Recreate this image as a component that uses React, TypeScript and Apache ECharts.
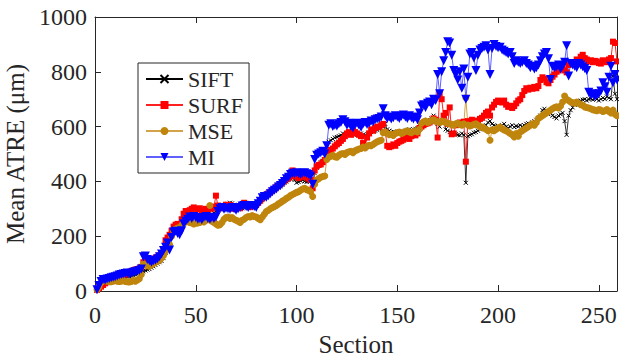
import React, { useEffect, useRef } from "react";
import * as echarts from "echarts";

const xTicks = [0, 50, 100, 150, 200, 250];
const yTicks = [0, 200, 400, 600, 800, 1000];
const seriesNames = ["SIFT", "SURF", "MSE", "MI"];

const sift = [
  3, 8, 14, 20, 26, 30, 33, 36, 38, 40,
  42, 44, 46, 48, 50, 52, 54, 56, 58, 60,
  62, 65, 68, 72, 75, 78, 80, 85, 90, 95,
  100, 105, 110, 120, 140, 160, 180, 200, 215, 225,
  230, 235, 245, 255, 262, 268, 270, 272, 275, 278,
  280, 272, 268, 275, 278, 270, 275, 280, 285, 290,
  295, 300, 305, 310, 315, 318, 322, 320, 315, 310,
  305, 300, 302, 305, 308, 306, 304, 308, 310, 312,
  318, 325, 332, 338, 345, 350, 355, 362, 368, 372,
  378, 382, 388, 395, 400, 405, 410, 415, 405, 395,
  398, 402, 405, 400, 398, 402, 400, 385, 430, 450,
  460, 470, 475, 480, 530, 545, 550, 555, 560, 562,
  565, 568, 575, 570, 572, 575, 578, 580, 575, 570,
  572, 575, 570, 568, 572, 578, 580, 582, 585, 588,
  590, 595, 600, 610, 590, 585, 580, 582, 578, 575,
  578, 580, 582, 585, 588, 590, 585, 590, 592, 595,
  605, 610, 615, 620, 625, 620, 630, 640, 620, 610,
  600, 625, 630, 590, 585, 580, 578, 575, 572, 570,
  568, 575, 570, 395, 565, 570, 572, 578, 580, 585,
  590, 595, 600, 605, 615, 620, 610, 605, 600, 602,
  598, 605, 610, 600, 595, 600, 605, 598, 602, 600,
  605, 600, 605, 610, 612, 608, 615, 620, 625, 630,
  640, 660, 665, 655, 645, 650, 640, 635, 630, 640,
  645, 650, 620, 570, 640, 660, 670, 680, 685, 690,
  695, 698, 700, 695, 700, 702, 698, 705, 700, 695,
  700, 705, 700, 710, 705, 700, 785, 720, 700,
];

const surf = [
  4, 10, 16, 22, 28, 32, 35, 38, 40, 42,
  45, 48, 52, 56, 60, 64, 68, 72, 75, 78,
  80, 82, 88, 105, 112, 108, 104, 108, 115, 120,
  125, 130, 138, 150, 185, 195, 205, 220, 235, 242,
  245, 240, 262, 282, 292, 288, 295, 300, 305, 300,
  298, 302, 292, 296, 300, 298, 305, 300, 308, 348,
  312, 308, 302, 310, 315, 308, 314, 306, 300, 310,
  306, 302, 315, 322, 318, 312, 306, 314, 310, 315,
  322, 330, 338, 345, 352, 356, 362, 368, 372, 380,
  385, 390, 396, 402, 408, 412, 420, 440, 418, 420,
  412, 416, 422, 418, 414, 410, 405, 375, 440, 455,
  460, 462, 470, 478, 500, 510, 515, 520, 528, 535,
  540, 548, 555, 565, 575, 580, 570, 585, 580, 575,
  570, 565, 540, 525, 560, 575, 590, 585, 595, 600,
  598, 605, 610, 580, 530, 525, 528, 535, 530, 540,
  545, 548, 552, 558, 562, 555, 565, 570, 568, 575,
  595, 600, 605, 610, 612, 615, 620, 630, 625, 560,
  720, 700, 640, 650, 610, 670, 572, 575, 605, 610,
  615, 612, 618, 472, 620, 615, 625, 618, 620, 622,
  628, 632, 640, 650, 655, 640, 670, 680, 690, 695,
  690, 688, 695, 680, 672, 676, 668, 675, 685, 695,
  700, 715, 730, 740, 735, 742, 738, 745, 740, 748,
  770, 780, 775, 762, 758, 770, 782, 790, 800, 805,
  810, 815, 805, 798, 825, 830, 828, 835, 845, 840,
  855, 862, 850, 845, 838, 842, 835, 840, 838, 832,
  830, 842, 838, 835, 845, 850, 910, 905, 838,
];

const mse = [
  5, 15, 30, 40, 38, 36, 35, 34, 36, 38,
  36, 35, 36, 38, 35, 34, 33, 35, 38, 36,
  40, 45, 60, 98, 95, 92, 90, 95, 100, 105,
  108, 112, 120, 130, 145, 160, 170, 200, 220, 226,
  230, 232, 240, 248, 252, 255, 250, 248, 245, 247,
  248, 250, 255, 252, 258, 260, 312, 255, 250, 245,
  240, 242, 250, 262, 268, 270, 265, 268, 262, 258,
  255, 250, 258, 262, 268, 272, 270, 275, 272, 270,
  265, 260, 270, 280, 290, 295, 300, 305, 308, 312,
  318, 322, 328, 332, 338, 342, 348, 352, 356, 360,
  362, 368, 372, 375, 370, 368, 362, 345, 390, 405,
  410, 415, 418, 420, 480, 488, 492, 495, 490, 488,
  495, 500, 502, 498, 505, 508, 510, 505, 512, 515,
  518, 520, 525, 522, 528, 532, 530, 535, 540, 545,
  548, 550, 578, 580, 575, 570, 572, 568, 575, 578,
  580, 575, 578, 582, 585, 580, 578, 582, 585, 580,
  590, 612, 618, 620, 615, 618, 622, 625, 620, 618,
  615, 620, 618, 615, 612, 610, 608, 605, 610, 612,
  608, 605, 610, 705, 606, 602, 605, 608, 610, 605,
  600, 598, 595, 590, 585, 550, 588, 585, 590, 595,
  598, 592, 588, 585, 580, 575, 570, 562, 575, 565,
  580, 585, 590, 595, 600, 605, 610, 605, 615, 630,
  635, 640, 645, 650, 655, 660, 665, 670, 672, 668,
  675, 690, 712, 700, 695, 690, 688, 685, 690, 685,
  680, 678, 672, 670, 668, 665, 662, 660, 658, 662,
  660, 655, 658, 662, 655, 650, 660, 645, 640,
];

const mi = [
  5, 20, 35, 42, 40, 44, 46, 48, 50, 52,
  55, 58, 60, 62, 64, 66, 63, 65, 68, 70,
  72, 75, 80, 125, 128, 115, 110, 105, 110, 112,
  118, 125, 135, 148, 160, 175, 150, 195, 215, 218,
  210, 205, 220, 245, 255, 262, 270, 265, 272, 268,
  262, 265, 260, 268, 272, 265, 262, 268, 265, 270,
  290, 300, 305, 298, 302, 300, 298, 305, 300, 295,
  300, 305, 310, 312, 308, 305, 310, 312, 308, 305,
  318, 328, 340, 345, 342, 348, 355, 362, 368, 372,
  380, 385, 392, 400, 410, 415, 425, 430, 428, 432,
  428, 425, 430, 432, 428, 425, 420, 390, 480, 495,
  500, 505, 510, 500, 530, 605, 610, 600, 605, 602,
  610, 615, 625, 618, 605, 612, 600, 595, 608, 612,
  605, 598, 610, 615, 608, 612, 620, 618, 625, 628,
  630, 635, 665, 640, 630, 635, 628, 632, 640, 635,
  630, 638, 642, 635, 630, 640, 632, 628, 635, 625,
  650, 675, 680, 670, 685, 690, 680, 700, 695, 790,
  720, 800, 840, 870, 910, 905, 860, 805, 790, 770,
  800, 740, 810, 700, 780, 865, 870, 850, 805, 860,
  880, 885, 890, 895, 880, 790, 885, 900, 892, 888,
  890, 880, 875, 870, 865, 870, 855, 830, 840, 835,
  830, 835, 840, 830, 825, 815, 820, 810, 815, 825,
  840, 855, 865, 870, 848, 772, 820, 815, 818, 825,
  810, 820, 835, 895, 785, 830, 825, 820, 815, 830,
  825, 818, 812, 805, 725, 715, 720, 710, 715, 720,
  730, 760, 745, 725, 780, 820, 760, 790, 770,
];

const FONT = "Liberation Serif";
const AX = "#262626";

const toPairs = (arr: number[]) => arr.map((v, i) => [i + 1, v]);

export default function App() {
  const ref = useRef<HTMLDivElement>(null);
  useEffect(() => {
    if (!ref.current) return;
    const chart = echarts.init(ref.current, undefined, { renderer: "svg" });
    const xmax = 259;
    const tickStyle = { show: true, inside: true, length: 6, lineStyle: { color: AX } };
    const lineStyle = { show: true, onZero: false, lineStyle: { color: AX, width: 1 } };
    const labelText = {
      fontFamily: FONT,
      fontSize: 24,
      color: AX,
      fontStyle: "normal",
      fontWeight: "normal",
    };
    const option = {
      animation: false,
      backgroundColor: "#ffffff",
      textStyle: { fontFamily: FONT },
      grid: {
        left: 95,
        right: 2,
        top: 17,
        bottom: 65,
        show: false,
        containLabel: false,
        outerBoundsMode: "none",
      },
      xAxis: [
        {
          type: "value",
          position: "bottom",
          min: xTicks[0],
          max: xmax,
          interval: 50,
          splitLine: { show: false },
          axisLine: lineStyle,
          axisTick: tickStyle,
          name: "Section",
          nameLocation: "middle",
          nameGap: 35,
          nameTextStyle: { ...labelText, fontSize: 25, lineHeight: 25 },
          axisLabel: {
            ...labelText,
            margin: 12,
            showMaxLabel: false,
            formatter: (v: number) => String(v),
          },
        },
        {
          type: "value",
          position: "top",
          min: xTicks[0],
          max: xmax,
          interval: 50,
          splitLine: { show: false },
          axisLine: lineStyle,
          axisTick: tickStyle,
          axisLabel: { show: false },
        },
      ],
      yAxis: [
        {
          type: "value",
          position: "left",
          min: yTicks[0],
          max: yTicks[yTicks.length - 1],
          interval: 200,
          splitLine: { show: false },
          axisLine: lineStyle,
          axisTick: tickStyle,
          name: "Mean ATRE (μm)",
          nameLocation: "middle",
          nameGap: 58,
          nameTextStyle: { ...labelText, fontSize: 25 },
          axisLabel: {
            ...labelText,
            margin: 8,
            formatter: (v: number) => String(v),
          },
        },
        {
          type: "value",
          position: "right",
          min: yTicks[0],
          max: yTicks[yTicks.length - 1],
          interval: 200,
          splitLine: { show: false },
          axisLine: lineStyle,
          axisTick: tickStyle,
          axisLabel: { show: false },
        },
      ],
      legend: {
        orient: "vertical",
        left: 138,
        top: 63,
        padding: [5, 6, 5, 7],
        itemGap: 4,
        itemWidth: 37,
        itemHeight: 10,
        backgroundColor: "#ffffff",
        borderColor: AX,
        borderWidth: 1,
        borderRadius: 0,
        textStyle: { ...labelText, fontSize: 22, lineHeight: 22 },
        data: seriesNames,
      },
      series: [
        {
          name: seriesNames[0],
          type: "line",
          data: toPairs(sift),
          symbol: "path://M0,0L10,10M10,0L0,10",
          symbolSize: 4,
          lineStyle: { color: "#000000", width: 0.8 },
          itemStyle: { color: "#000000", borderColor: "#000000", borderWidth: 1 },
        },
        {
          name: seriesNames[1],
          type: "line",
          data: toPairs(surf),
          symbol: "rect",
          symbolSize: 6,
          lineStyle: { color: "#ff2020", width: 1 },
          itemStyle: { color: "#ff0000" },
        },
        {
          name: seriesNames[2],
          type: "line",
          data: toPairs(mse),
          symbol: "circle",
          symbolSize: 7,
          lineStyle: { color: "#d4a248", width: 1 },
          itemStyle: { color: "#bf850d" },
        },
        {
          name: seriesNames[3],
          type: "line",
          data: toPairs(mi),
          symbol: "triangle",
          symbolRotate: 180,
          symbolSize: 9,
          lineStyle: { color: "#6060ff", width: 1 },
          itemStyle: { color: "#0000ff" },
        },
      ],
    };
    chart.setOption(option as any);
    return () => chart.dispose();
  }, []);
  return (
    <div
      ref={ref}
      style={{ position: "fixed", left: 0, top: 0, width: 619, height: 356, background: "#fff" }}
    />
  );
}
